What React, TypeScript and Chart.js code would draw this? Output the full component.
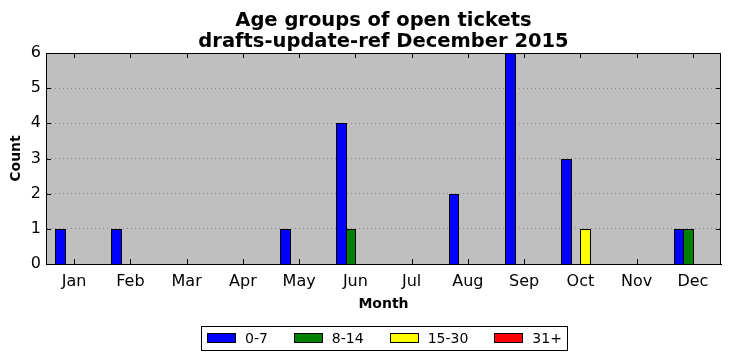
import React, { useEffect, useRef } from "react";
import { Chart, registerables } from "chart.js";

Chart.register(...registerables);

const months = ["Jan", "Feb", "Mar", "Apr", "May", "Jun", "Jul", "Aug", "Sep", "Oct", "Nov", "Dec"];
const age0to7 = [1, 1, 0, 0, 1, 4, 0, 2, 6, 3, 0, 1];
const age8to14 = [0, 0, 0, 0, 0, 1, 0, 0, 0, 0, 0, 1];
const age15to30 = [0, 0, 0, 0, 0, 0, 0, 0, 0, 1, 0, 0];
const age31plus = [0, 0, 0, 0, 0, 0, 0, 0, 0, 0, 0, 0];
const seriesLabels = ["0-7", "8-14", "15-30", "31+"];
const seriesColors = ["#0000ff", "#008000", "#ffff00", "#ff0000"];
const titleLines = ["Age groups of open tickets", "drafts-update-ref December 2015"];
const yTicks = [0, 1, 2, 3, 4, 5, 6];

const FONT = "'DejaVu Sans', sans-serif";

const decorPlugin = {
  id: "decor",
  beforeDraw(chart: any) {
    const { ctx, chartArea: a } = chart;
    ctx.save();
    ctx.fillStyle = "#bfbfbf";
    ctx.fillRect(a.left, a.top, a.right - a.left, a.bottom - a.top);
    ctx.restore();
  },
  afterDatasetsDraw(chart: any) {
    const { ctx } = chart;
    ctx.save();
    ctx.strokeStyle = "#000";
    ctx.lineWidth = 1;
    chart.data.datasets.forEach((ds: any, di: number) => {
      const meta = chart.getDatasetMeta(di);
      meta.data.forEach((bar: any, i: number) => {
        if (!ds.data[i]) return;
        const p = bar.getProps(["x", "y", "base", "width"], true);
        const l = Math.round(p.x - p.width / 2);
        const r = Math.round(p.x + p.width / 2) + 1;
        const t = Math.round(p.y);
        const b = Math.round(p.base);
        ctx.fillStyle = seriesColors[di];
        ctx.fillRect(l, t, r - l, b - t);
        ctx.strokeRect(l + 0.5, t + 0.5, r - l - 1, b - t);
      });
    });
    ctx.restore();
  },
  afterDraw(chart: any) {
    const { ctx, chartArea: a } = chart;
    const cx = (a.left + a.right) / 2;
    ctx.save();
    // frame
    ctx.strokeStyle = "#000";
    ctx.lineWidth = 1;
    ctx.strokeRect(Math.round(a.left) + 0.5, Math.round(a.top) + 0.5, Math.round(a.right - a.left) - 1, Math.round(a.bottom - a.top));
    // inner ticks
    const xs = chart.scales.x;
    const ys = chart.scales.y;
    ctx.beginPath();
    for (let i = 0; i < months.length; i++) {
      const x = Math.round(xs.getPixelForTick(i)) + 0.5;
      ctx.moveTo(x, a.bottom);
      ctx.lineTo(x, a.bottom - 5);
      ctx.moveTo(x, a.top);
      ctx.lineTo(x, a.top + 5);
    }
    for (const v of yTicks) {
      const y = Math.round(ys.getPixelForValue(v)) + 0.5;
      ctx.moveTo(a.left, y);
      ctx.lineTo(a.left + 5, y);
      ctx.moveTo(a.right, y);
      ctx.lineTo(a.right - 5, y);
    }
    ctx.stroke();
    // title
    ctx.fillStyle = "#000";
    ctx.font = `bold 19.5px ${FONT}`;
    ctx.textAlign = "center";
    ctx.textBaseline = "alphabetic";
    ctx.fillText(titleLines[0], cx, 26);
    ctx.fillText(titleLines[1], cx, 47);
    // legend
    ctx.font = `14px ${FONT}`;
    const sw = 29, sh = 10, gapText = 9, gapItem = 26, padL = 6, padR = 5;
    const widths = seriesLabels.map((l) => ctx.measureText(l).width);
    let total = padL + padR;
    widths.forEach((w, i) => {
      total += sw + gapText + w + (i < widths.length - 1 ? gapItem : 0);
    });
    total = Math.round(total);
    const bx = Math.round(cx - total / 2);
    const by = 326;
    const bh = 24;
    ctx.fillStyle = "#fff";
    ctx.fillRect(bx, by, total, bh);
    ctx.strokeStyle = "#000";
    ctx.strokeRect(bx + 0.5, by + 0.5, total, bh);
    let x = bx + padL;
    ctx.textAlign = "left";
    ctx.textBaseline = "middle";
    seriesLabels.forEach((l, i) => {
      const sx = Math.round(x);
      ctx.fillStyle = seriesColors[i];
      ctx.fillRect(sx, by + 7, sw, sh);
      ctx.strokeStyle = "#000";
      ctx.strokeRect(sx + 0.5, by + 7.5, sw - 1, sh - 1);
      ctx.fillStyle = "#000";
      ctx.fillText(l, x + sw + gapText, by + 13);
      x += sw + gapText + widths[i] + gapItem;
    });
    ctx.restore();
  },
};

export default function App() {
  const ref = useRef<HTMLCanvasElement | null>(null);
  useEffect(() => {
    if (!ref.current) return;
    const series = [age0to7, age8to14, age15to30, age31plus];
    const chart = new Chart(ref.current, {
      type: "bar",
      data: {
        labels: months,
        datasets: series.map((d, i) => ({
          label: seriesLabels[i],
          data: d,
          backgroundColor: "rgba(0,0,0,0)",
          borderWidth: 0,
          barPercentage: 1,
          categoryPercentage: 0.676,
        })),
      },
      options: {
        responsive: false,
        animation: false,
        layout: { padding: { top: 53, right: 10, bottom: 47, left: 0 } },
        plugins: {
          legend: { display: false },
          title: { display: false },
          tooltip: { enabled: false },
        },
        scales: {
          x: {
            grid: { display: false, drawTicks: false },
            border: { display: true, color: "#000" },
            ticks: { color: "#000", font: { family: FONT, size: 16 }, padding: 8, maxRotation: 0 },
            title: { display: true, text: "Month", color: "#000", font: { family: FONT, size: 14, weight: "bold" }, padding: { top: 0, bottom: 1 } },
            afterFit: (s: any) => { s.height = 50; },
          },
          y: {
            min: 0,
            max: 6,
            ticks: { stepSize: 1, color: "#000", font: { family: FONT, size: 16 }, padding: 5 },
            grid: { color: "#8a8a8a", lineWidth: 1, drawTicks: false },
            border: { display: true, color: "#000", dash: [1, 3] },
            title: { display: true, text: "Count", color: "#000", font: { family: FONT, size: 14, weight: "bold" }, padding: { top: 8, bottom: 0 } },
            afterFit: (s: any) => { s.width = 46; },
          },
        },
      },
      plugins: [decorPlugin],
    });
    return () => chart.destroy();
  }, []);
  return (
    <div style={{ position: "absolute", left: 0, top: 0, width: 731, height: 361, background: "#fff" }}>
      <canvas ref={ref} width={731} height={361} style={{ display: "block" }} />
    </div>
  );
}
